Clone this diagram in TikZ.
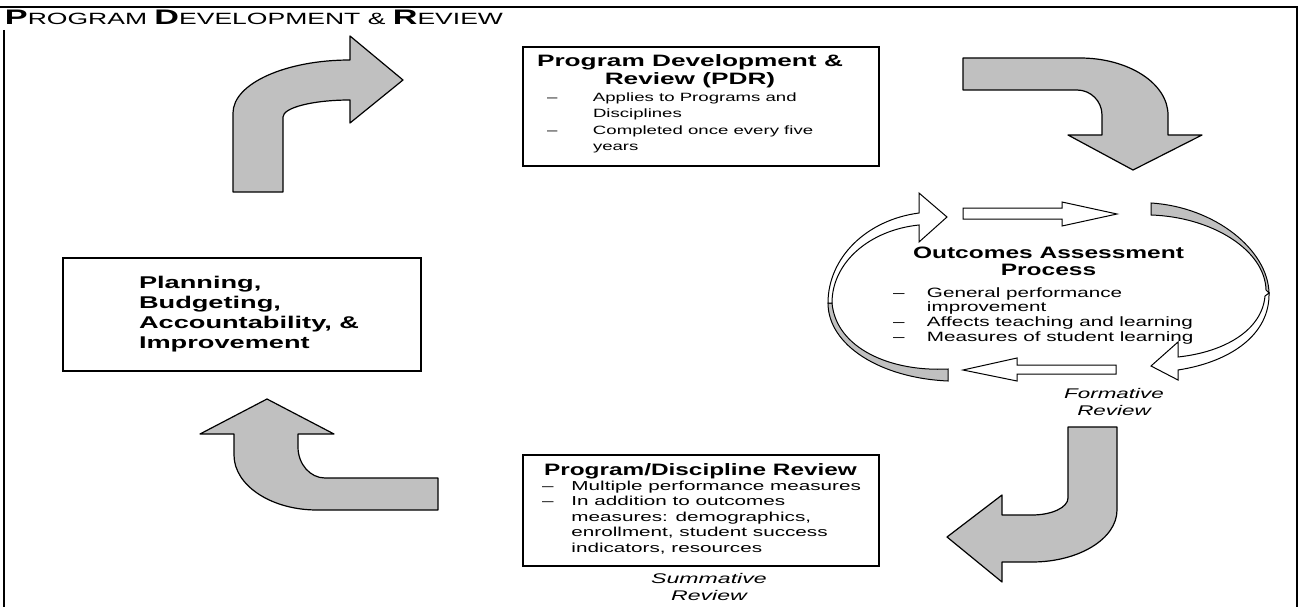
\documentclass[tikz,border=0pt]{standalone}
\usepackage{fontspec}
\usepackage{graphicx}
\setmainfont{Liberation Sans}
\definecolor{arrgray}{RGB}{192,192,192}
\newcommand{\tbig}[1]{{\bfseries\fontsize{21}{21}\selectfont #1}}
\newcommand{\tsmall}[1]{{\fontsize{16.3}{16}\selectfont #1}}
\begin{document}
\begin{tikzpicture}[x=1pt,y=-1pt,
  blockarrow/.style={fill=arrgray, draw=black, line width=1.2pt, line join=round},
  ringwhite/.style={fill=white, draw=black, line width=1pt},
  ringgray/.style={fill=arrgray, draw=black, line width=1pt},
  boxstyle/.style={draw=black, line width=1.2pt, inner sep=0, fill=white},
  txt/.style={inner sep=0, outer sep=0},
  framestyle/.style={line width=2pt}
]
\useasboundingbox (0,0) rectangle (1303,607);
\fill[white] (0,0) rectangle (1303,607);

% frame
\draw[framestyle] (0,7) -- (1297,7) -- (1297,607);
\draw[framestyle] (4,30) -- (4,607);

% title
\node[txt, anchor=base west] (title) at (5,25)
  {\scalebox{1.627}[1]{\tbig{P}\tsmall{ROGRAM }\tbig{D}\tsmall{EVELOPMENT \& }\tbig{R}\tsmall{EVIEW}}};

% boxes
\node[boxstyle, minimum width=356pt, minimum height=119pt] (pdr) at (701,106.5) {};
\node[boxstyle, minimum width=358pt, minimum height=113pt] (plan) at (242,314.5) {};
\node[boxstyle, minimum width=356pt, minimum height=111pt] (pdrev) at (701,510.5) {};

% PDR text
\node[txt, anchor=base] (pdrtitle) at (690,67)
  {\scalebox{1.589}[1]{\bfseries\fontsize{16.5}{18}\selectfont\begin{tabular}[t]{@{}c@{}}Program Development \&\\ Review (PDR)\end{tabular}}};
\node[txt, anchor=base west] (pdrlist) at (547,101.7)
  {\scalebox{1.55}[1]{\fontsize{12}{16.2}\selectfont\begin{tabular}[t]{@{}l@{\hspace{23pt}}l@{}}\textendash & Applies to Programs and\\ & Disciplines\\ \textendash & Completed once every five\\ & years\end{tabular}}};

% Planning text
\node[txt, anchor=base west] (plantext) at (139,288)
  {\scalebox{1.6}[1]{\bfseries\fontsize{17}{20}\selectfont\begin{tabular}[t]{@{}l@{}}Planning,\\ Budgeting,\\ Accountability, \&\\ Improvement\end{tabular}}};

% Program/Discipline Review text
\node[txt, anchor=base] (revtitle) at (700.5,475)
  {\scalebox{1.477}[1]{\bfseries\fontsize{16.5}{18}\selectfont Program/Discipline Review}};
\node[txt, anchor=base west] (revlist) at (542,490)
  {\scalebox{1.59}[1]{\fontsize{13}{15.5}\selectfont\begin{tabular}[t]{@{}l@{\hspace{11.3pt}}l@{}}\textendash & Multiple performance measures\\ \textendash & In addition to outcomes\\ & measures: demographics,\\ & enrollment, student success\\ & indicators, resources\end{tabular}}};
\node[txt, anchor=base] (summ) at (709,583)
  {\scalebox{1.65}[1]{\itshape\fontsize{14}{17}\selectfont\begin{tabular}[t]{@{}c@{}}Summative\\ Review\end{tabular}}};

% big gray block arrows
\path[blockarrow] (233,192) -- (233,113) .. controls (233,83.7) and (285.4,60) .. (350,60)
  -- (350,36) -- (403,80) -- (350,123) -- (350,100)
  .. controls (313,100) and (283,107.6) .. (283,117) -- (283,192) -- cycle;
\path[blockarrow] (963,58) -- (1080,58) .. controls (1128.6,58) and (1168,83.5) .. (1168,115)
  -- (1168,135) -- (1202,135) -- (1133,170) -- (1068,135) -- (1102,135) -- (1102,115)
  .. controls (1102,101.2) and (1090.8,90) .. (1077,90) -- (963,90) -- cycle;
\path[blockarrow] (1068,427) -- (1117,427) -- (1117,510) .. controls (1117,538.7) and (1078.9,562) .. (1032,562)
  -- (1002,562) -- (1002,582) -- (947,537) -- (1002,495) -- (1002,515) -- (1032,515)
  .. controls (1051.9,515) and (1068,507.4) .. (1068,498) -- cycle;
\path[blockarrow] (438,478) -- (325,478) .. controls (310.1,478) and (298,464.1) .. (298,447)
  -- (298,434) -- (334,434) -- (267,399) -- (200,434) -- (234,434) -- (234,455)
  .. controls (234,485.4) and (271.2,510) .. (317,510) -- (438,510) -- cycle;

% outcomes ring
\path[ringgray] (828,303) .. controls (828,345) and (880,378) .. (948,381) -- (948,369)
  .. controls (890,372) and (836,348) .. (832,303) -- cycle;
\path[ringgray] (1151,203) .. controls (1215,207) and (1268,250) .. (1269,293) -- (1266,290)
  .. controls (1265,250) and (1212,217) .. (1151,215) -- cycle;
\path[ringwhite] (919,213) -- (919,193) -- (947,217) -- (919,242) -- (919,225)
  .. controls (870,230) and (832,262) .. (832,303) -- (828,303)
  .. controls (828,258) and (866,220) .. (919,213) -- cycle;
\path[ringwhite] (1178,370) -- (1178,380) -- (1151,366) -- (1178,342) -- (1178,357)
  .. controls (1225,352) and (1262,330) .. (1265,296) -- (1269,293)
  .. controls (1270,335) and (1230,362) .. (1178,370) -- cycle;
\path[ringwhite] (963,208) -- (1062,208) -- (1062,202) -- (1117,214) -- (1062,226) -- (1062,219) -- (963,219) -- cycle;
\path[ringwhite] (1116,365) -- (1017,365) -- (1017,358) -- (963,370) -- (1017,381) -- (1017,374) -- (1116,374) -- cycle;

% outcomes text
\node[txt, anchor=base] (outtitle) at (1048.5,258)
  {\scalebox{1.485}[1]{\bfseries\fontsize{16.5}{17}\selectfont\begin{tabular}[t]{@{}c@{}}Outcomes Assessment\\ Process\end{tabular}}};
\node[txt, anchor=base west] (outlist) at (893,297)
  {\scalebox{1.53}[1]{\fontsize{13.5}{14.7}\selectfont\begin{tabular}[t]{@{}l@{\hspace{14.7pt}}l@{}}\textendash & General performance\\ & improvement\\ \textendash & Affects teaching and learning\\ \textendash & Measures of student learning\end{tabular}}};
\node[txt, anchor=base] (form) at (1114,398)
  {\scalebox{1.6}[1]{\itshape\fontsize{14}{17}\selectfont\begin{tabular}[t]{@{}c@{}}Formative\\ Review\end{tabular}}};
\end{tikzpicture}
\end{document}
